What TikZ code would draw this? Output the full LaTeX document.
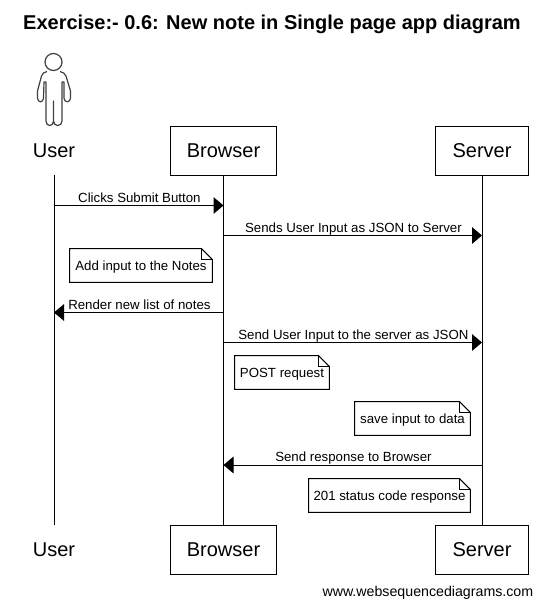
\documentclass[tikz,border=0pt]{standalone}
\usepackage{fontspec}
\setmainfont{Liberation Sans}
\usetikzlibrary{arrows.meta}
\usetikzlibrary{positioning}
\tikzstyle{actorbox} = [rectangle, minimum height=36.75pt, text centered, font=\fontsize{15}{18}\selectfont, line width=0.75pt, draw=black]
\tikzstyle{actorplain} = [rectangle, minimum height=36.75pt, text centered, font=\fontsize{15}{18}\selectfont]
\tikzstyle{lifeline} = [line width=0.75pt]
\tikzstyle{arrow} = [line width=0.75pt,-{Triangle[length=7.5pt,width=12.5pt]}]
\tikzstyle{msglabel} = [midway, anchor=base, inner sep=0pt, xshift=0.5pt, yshift=2.4pt, font=\fontsize{9.95}{12}\selectfont]
\tikzstyle{notebox} = [rectangle, inner sep=0pt, minimum height=24.75pt, text height=8.3pt, text depth=1.5pt, text centered, font=\fontsize{9.95}{12}\selectfont,
append after command={
  \pgfextra{
  \draw[line width=0.75pt] (\tikzlastnode.south west) -- (\tikzlastnode.north west)
  -- ([xshift=-8pt]\tikzlastnode.north east) -- ([yshift=-8pt]\tikzlastnode.north east)
  -- (\tikzlastnode.south east) -- cycle;
  \draw[line width=0.75pt] ([xshift=-8pt]\tikzlastnode.north east) -- ([xshift=-8pt,yshift=-8pt]\tikzlastnode.north east) -- ([yshift=-8pt]\tikzlastnode.north east);
  }
}]
\begin{document}
\begin{tikzpicture}[x=0.75pt,y=-0.75pt]
    \useasboundingbox (0,0) rectangle (543,608);
    \node (title) at (272,24) {\fontsize{15}{18}\selectfont\bfseries Exercise:- 0.6: New note in Single page app diagram};
    \node (footer) [anchor=east, inner sep=0pt] at (533.5,593) {\fontsize{10.65}{13}\selectfont www.websequencediagrams.com};

    \node (userTop) [actorplain] at (54,150.5) {User};
    \node (browserTop) [actorbox, minimum width=80pt] at (223.5,150.5) {Browser};
    \node (serverTop) [actorbox, minimum width=70pt] at (482,150.5) {Server};
    \node (userBot) [actorplain] at (54,549.5) {User};
    \node (browserBot) [actorbox, minimum width=80pt] at (223.5,549.5) {Browser};
    \node (serverBot) [actorbox, minimum width=70pt] at (482,549.5) {Server};

    \draw[lifeline] (userTop) -- (userBot);
    \draw[lifeline] (browserTop) -- (browserBot);
    \draw[lifeline] (serverTop) -- (serverBot);

    % stick figure
    \draw[line width=0.9pt, draw=black!75] (53.5,62) circle (8.5);
    \draw[line width=0.9pt, draw=black!75, line join=round]
        (47,71.5) .. controls (44,72.5) and (42.5,73) .. (41.5,76)
        -- (37.5,91) -- (37.5,98) .. controls (37.5,103) and (43.5,103) .. (43.5,98)
        -- (44,82) -- (46,82) -- (46,121) .. controls (46,127) and (53.5,127) .. (53.5,121)
        -- (53.5,101) -- (53.5,121) .. controls (53.5,127) and (62,127) .. (62,121)
        -- (62,82) -- (64,82) -- (64,98) .. controls (64,103) and (70.5,103) .. (70.5,98)
        -- (70.5,91) -- (66,76) .. controls (65,73) and (63,72.5) .. (60,71.5);

    \coordinate (m1a) at (userTop |- 0,205.5);
    \coordinate (m1b) at (browserTop |- 0,205.5);
    \coordinate (m2a) at (browserTop |- 0,235.5);
    \coordinate (m2b) at (serverTop |- 0,235.5);
    \coordinate (m3a) at (browserTop |- 0,312.5);
    \coordinate (m3b) at (userTop |- 0,312.5);
    \coordinate (m4a) at (browserTop |- 0,342.5);
    \coordinate (m4b) at (serverTop |- 0,342.5);
    \coordinate (m5a) at (serverTop |- 0,465);
    \coordinate (m5b) at (browserTop |- 0,465);

    \draw[arrow] (m1a) -- node[msglabel] {Clicks Submit Button} (m1b);
    \draw[arrow] (m2a) -- node[msglabel] {Sends User Input as JSON to Server} (m2b);
    \draw[arrow] (m3a) -- node[msglabel] {Render new list of notes} (m3b);
    \draw[arrow] (m4a) -- node[msglabel] {Send User Input to the server as JSON} (m4b);
    \draw[arrow] (m5a) -- node[msglabel] {Send response to Browser} (m5b);

    \node (note1) [notebox, minimum width=106.5pt] at (141,265.5) {Add input to the Notes};
    \node (note2) [notebox, minimum width=70.5pt] at (282,372.5) {POST request};
    \node (note3) [notebox, minimum width=86.25pt] at (412.5,418.5) {save input to data};
    \node (note4) [notebox, minimum width=120.75pt] at (389.5,495.5) {201 status code response};
\end{tikzpicture}
\end{document}
